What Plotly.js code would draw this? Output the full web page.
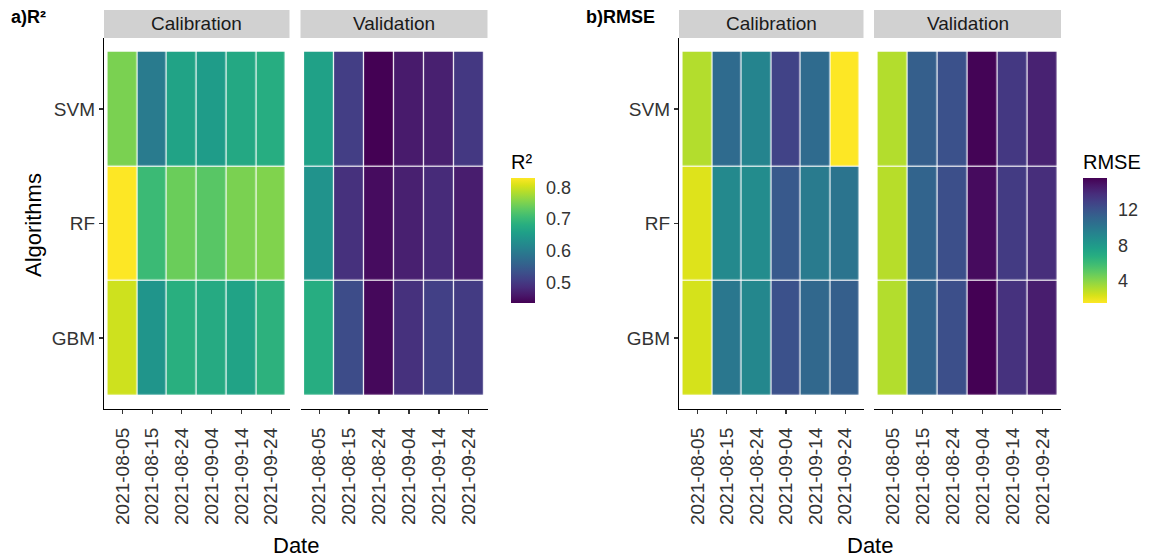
<!DOCTYPE html>
<html>
<head>
<meta charset="utf-8">
<script src="https://cdn.plot.ly/plotly-3.0.1.min.js"></script>
<style>html,body{margin:0;padding:0;background:#fff;}#chart{width:1152px;height:559px;}</style>
</head>
<body>
<div id="chart"></div>
<script>
// ---- data ----
const dates = ["2021-08-05", "2021-08-15", "2021-08-24", "2021-09-04", "2021-09-14", "2021-09-24"];
const algorithms = ["SVM", "RF", "GBM"];

// R² (rows: SVM, RF, GBM)
const r2Calibration = [
  [0.750, 0.598, 0.664, 0.652, 0.672, 0.680],
  [0.829, 0.703, 0.740, 0.727, 0.750, 0.754],
  [0.800, 0.640, 0.684, 0.676, 0.664, 0.688]
];
const r2Validation = [
  [0.660, 0.507, 0.436, 0.464, 0.470, 0.500],
  [0.636, 0.490, 0.448, 0.470, 0.483, 0.467],
  [0.680, 0.526, 0.444, 0.490, 0.510, 0.503]
];

// RMSE (rows: SVM, RF, GBM)
const rmseCalibration = [
  [3.1, 10.7, 9.3, 12.8, 10.7, 1.5],
  [2.2, 9.0, 8.8, 11.7, 9.8, 10.2],
  [2.4, 10.0, 9.1, 12.1, 10.9, 11.4]
];
const rmseValidation = [
  [3.1, 11.4, 12.1, 15.5, 13.3, 14.3],
  [3.0, 11.1, 12.2, 15.2, 13.2, 13.8],
  [3.1, 11.1, 12.2, 15.6, 13.6, 14.5]
];

const facetLabels = ["Calibration", "Validation"];
const r2Ticks = [0.5, 0.6, 0.7, 0.8];
const rmseTicks = [4, 8, 12];

// ---- layout helpers (pixel -> paper) ----
const W = 1152, H = 559;
const px = v => v / W;
const py = v => 1 - v / H;
const FONT = "Liberation Sans, Arial, sans-serif";

function hm(z, xa, ya, ca) {
  return {
    type: "heatmap", x: dates, y: algorithms, z: z,
    xaxis: xa, yaxis: ya, coloraxis: ca,
    xgap: 1.2, ygap: 1.2, hoverongaps: false
  };
}

const data = [
  hm(r2Calibration, "x", "y", "coloraxis"),
  hm(r2Validation, "x2", "y2", "coloraxis"),
  hm(rmseCalibration, "x3", "y3", "coloraxis2"),
  hm(rmseValidation, "x4", "y4", "coloraxis2")
];

const yDomain = [py(409), py(38)];
function xAx(d0, d1, anchor) {
  return {
    domain: [px(d0), px(d1)], anchor: anchor, type: "category",
    range: [-0.62, 5.62], showline: true, linecolor: "#000", linewidth: 1.2,
    ticks: "outside", ticklen: 4, tickwidth: 1.1, tickcolor: "#333",
    ticklabelstandoff: 6,
    tickangle: -90, tickfont: {family: FONT, size: 19, color: "#333"},
    showgrid: false, zeroline: false, fixedrange: true
  };
}
function yAx(anchor, show) {
  return {
    domain: yDomain, anchor: anchor, type: "category",
    range: [2.62, -0.62], showline: show, linecolor: "#000", linewidth: 1.2,
    ticks: show ? "outside" : "", ticklen: 4, tickwidth: 1.1, tickcolor: "#333",
    showticklabels: show, tickfont: {family: FONT, size: 19, color: "#333"},
    showgrid: false, zeroline: false, fixedrange: true
  };
}

const strips = [
  [104, 289.5, facetLabels[0]], [300.5, 487.5, facetLabels[1]],
  [679, 863.5, facetLabels[0]], [874, 1061, facetLabels[1]]
];
const shapes = strips.map(s => ({
  type: "rect", xref: "paper", yref: "paper",
  x0: px(s[0]), x1: px(s[1]), y0: py(38), y1: py(10),
  fillcolor: "#d1d1d1", line: {width: 0}, layer: "below"
}));
const annotations = strips.map(s => ({
  xref: "paper", yref: "paper", x: px((s[0] + s[1]) / 2), y: py(24),
  text: s[2], showarrow: false, xanchor: "center", yanchor: "middle",
  font: {family: FONT, size: 19, color: "#1a1a1a"}
}));
annotations.push(
  {xref: "paper", yref: "paper", x: px(9), y: py(17), text: "<b>a)R²</b>", showarrow: false,
   xanchor: "left", yanchor: "middle", font: {family: FONT, size: 18, color: "#000"}},
  {xref: "paper", yref: "paper", x: px(584), y: py(17), text: "<b>b)RMSE</b>", showarrow: false,
   xanchor: "left", yanchor: "middle", font: {family: FONT, size: 18, color: "#000"}},
  {xref: "paper", yref: "paper", x: px(296), y: py(545), text: "Date", showarrow: false,
   xanchor: "center", yanchor: "middle", font: {family: FONT, size: 22, color: "#000"}},
  {xref: "paper", yref: "paper", x: px(870), y: py(545), text: "Date", showarrow: false,
   xanchor: "center", yanchor: "middle", font: {family: FONT, size: 22, color: "#000"}},
  {xref: "paper", yref: "paper", x: px(33), y: py(225), text: "Algorithms", showarrow: false,
   textangle: -90, xanchor: "center", yanchor: "middle", font: {family: FONT, size: 22, color: "#000"}}
);

function cbar(title, x, tickvals) {
  return {
    title: {text: title, side: "top", font: {family: FONT, size: 20, color: "#000"}},
    x: px(x), xanchor: "left", xref: "paper",
    y: py(303), yanchor: "bottom", yref: "paper",
    lenmode: "pixels", len: 152, thickness: 24, thicknessmode: "pixels",
    outlinewidth: 0, xpad: 0, ypad: 0,
    tickmode: "array", tickvals: tickvals,
    ticks: "outside", ticklen: 8, tickwidth: 1, tickcolor: "rgba(0,0,0,0)",
    tickfont: {family: FONT, size: 18, color: "#333"}
  };
}

const layout = {
  width: W, height: H,
  margin: {l: 0, r: 0, t: 0, b: 0},
  paper_bgcolor: "#fff", plot_bgcolor: "#fff",
  showlegend: false,
  xaxis: xAx(104, 289.5, "y"),
  xaxis2: xAx(300.5, 487.5, "y2"),
  xaxis3: xAx(679, 863.5, "y3"),
  xaxis4: xAx(874, 1061, "y4"),
  yaxis: yAx("x", true),
  yaxis2: yAx("x2", false),
  yaxis3: yAx("x3", true),
  yaxis4: yAx("x4", false),
  coloraxis: {colorscale: "Viridis", cmin: 0.436, cmax: 0.829, colorbar: cbar("R²", 511, r2Ticks)},
  coloraxis2: {colorscale: "Viridis", reversescale: true, cmin: 1.5, cmax: 15.6, colorbar: cbar("RMSE", 1083, rmseTicks)},
  shapes: shapes,
  annotations: annotations
};

Plotly.newPlot("chart", data, layout, {displayModeBar: false, staticPlot: true});
</script>
</body>
</html>
